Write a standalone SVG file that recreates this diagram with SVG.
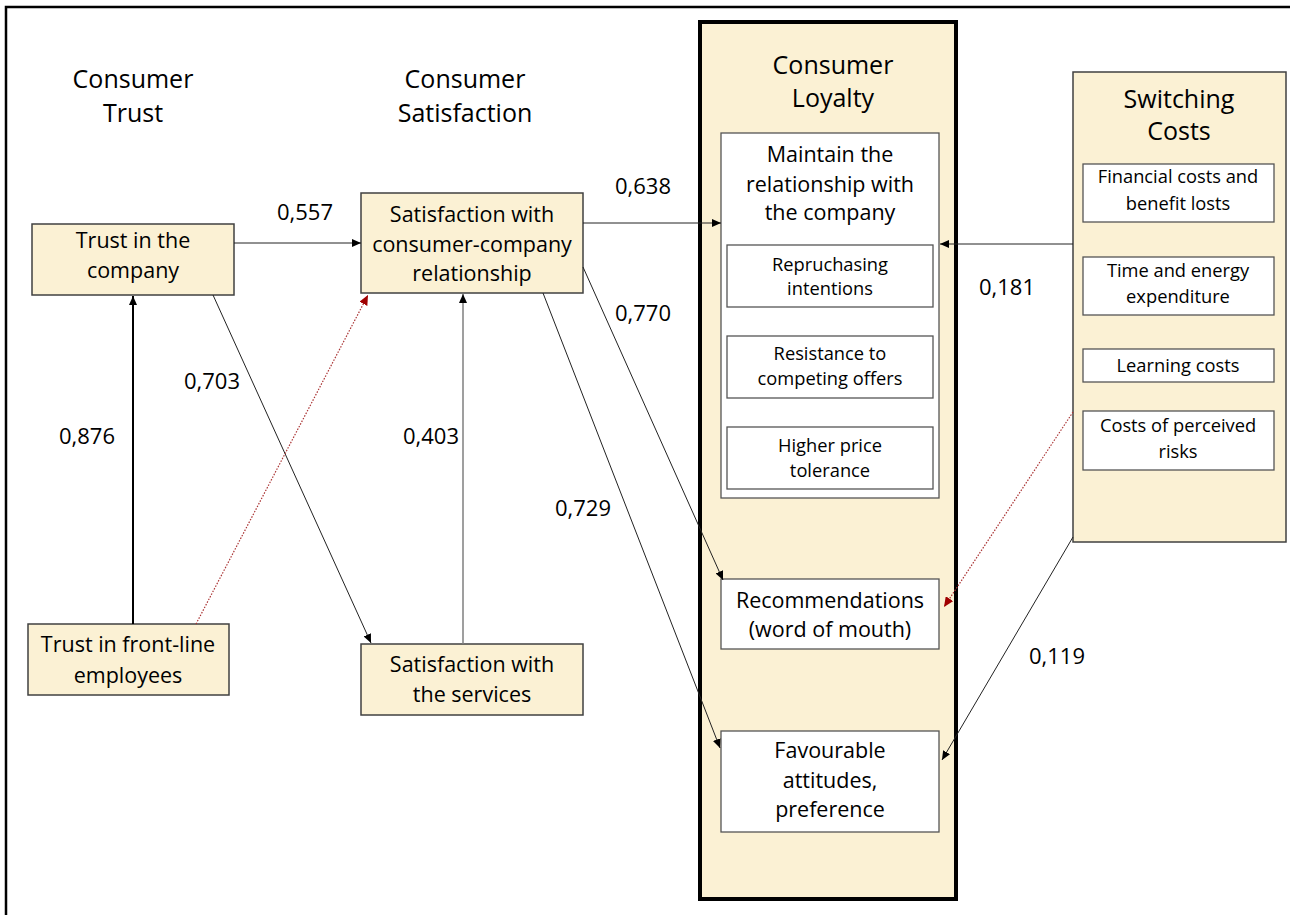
<svg xmlns="http://www.w3.org/2000/svg" width="1290" height="915" viewBox="0 0 1290 915">
<defs>
<marker id="ah" markerUnits="userSpaceOnUse" markerWidth="10" markerHeight="8" refX="9" refY="4" orient="auto"><path d="M0,0 L9,4 L0,8 Z" fill="#000"/></marker>
<marker id="ahr" markerUnits="userSpaceOnUse" markerWidth="11" markerHeight="9" refX="10" refY="4.5" orient="auto"><path d="M0,0 L10,4.5 L0,9 Z" fill="#a00000"/></marker>
</defs>
<style>
text{font-family:"Open Sans","Liberation Sans",sans-serif;fill:#000;text-anchor:middle}
.h{font-size:25px}
.n{font-size:21.5px}
.s{font-size:18.3px}
.l{font-size:22px}
.cream{fill:#fbf1d4;stroke:#404040;stroke-width:1.5}
.white{fill:#fff;stroke:#555;stroke-width:1.3}
.c{fill:none;stroke:#222;stroke-width:1}
.red{fill:none;stroke:#a33;stroke-width:1.2;stroke-dasharray:1.5 1.5}
</style>
<rect x="0" y="0" width="1290" height="915" fill="#fff"/>
<path d="M6,915 V7 H1290" fill="none" stroke="#000" stroke-width="2.5"/>

<g id="header-trust"><text class="h" x="133" y="88">Consumer</text><text class="h" x="133" y="122">Trust</text></g>
<g id="header-satisfaction"><text class="h" x="465" y="88">Consumer</text><text class="h" x="465" y="122">Satisfaction</text></g>

<g id="loyalty">
<rect x="700" y="22" width="256" height="877" fill="#fbf1d4" stroke="#000" stroke-width="4"/>
<text class="h" x="833" y="74">Consumer</text><text class="h" x="833" y="107">Loyalty</text>
</g>
<g id="maintain">
<rect class="white" x="721" y="133" width="218" height="365"/>
<text class="n" x="830" y="162">Maintain the</text><text class="n" x="830" y="192">relationship with</text><text class="n" x="830" y="220">the company</text>
</g>
<g id="repurchasing"><rect class="white" x="727" y="245" width="206" height="62"/><text class="s" x="830" y="271">Repruchasing</text><text class="s" x="830" y="295">intentions</text></g>
<g id="resistance"><rect class="white" x="727" y="336" width="206" height="62"/><text class="s" x="830" y="360">Resistance to</text><text class="s" x="830" y="385">competing offers</text></g>
<g id="price"><rect class="white" x="727" y="427" width="206" height="62"/><text class="s" x="830" y="452">Higher price</text><text class="s" x="830" y="477">tolerance</text></g>
<g id="recommendations"><rect class="white" x="721" y="579" width="218" height="70"/><text class="n" x="830" y="608">Recommendations</text><text class="n" x="830" y="637">(word of mouth)</text></g>
<g id="favourable"><rect class="white" x="721" y="731" width="218" height="101"/><text class="n" x="830" y="758">Favourable</text><text class="n" x="830" y="788">attitudes,</text><text class="n" x="830" y="817">preference</text></g>

<g id="switching">
<rect class="cream" x="1073" y="72" width="213" height="470"/>
<text class="h" x="1179" y="108">Switching</text><text class="h" x="1179" y="140">Costs</text>
</g>
<g id="financial"><rect class="white" x="1083" y="164" width="191" height="58"/><text class="s" x="1178" y="183">Financial costs and</text><text class="s" x="1178" y="210">benefit losts</text></g>
<g id="time"><rect class="white" x="1083" y="257" width="191" height="58"/><text class="s" x="1178" y="277">Time and energy</text><text class="s" x="1178" y="303">expenditure</text></g>
<g id="learning"><rect class="white" x="1083" y="349" width="191" height="33"/><text class="s" x="1178" y="372">Learning costs</text></g>
<g id="perceived"><rect class="white" x="1083" y="411" width="191" height="59"/><text class="s" x="1178" y="432">Costs of perceived</text><text class="s" x="1178" y="458">risks</text></g>

<g id="trust-company"><rect class="cream" x="32" y="224" width="202" height="71"/><text class="n" x="133" y="248">Trust in the</text><text class="n" x="133" y="278">company</text></g>
<g id="trust-frontline"><rect class="cream" x="28" y="624" width="201" height="71"/><text class="n" x="128" y="652">Trust in front-line</text><text class="n" x="128" y="683">employees</text></g>
<g id="sat-relationship"><rect class="cream" x="361" y="193" width="222" height="100"/><text class="n" x="472" y="222">Satisfaction with</text><text class="n" x="472" y="252">consumer-company</text><text class="n" x="472" y="281">relationship</text></g>
<g id="sat-services"><rect class="cream" x="361" y="644" width="222" height="71"/><text class="n" x="472" y="672">Satisfaction with</text><text class="n" x="472" y="702">the services</text></g>

<g id="connectors">
<line class="c" x1="234" y1="243" x2="361" y2="243" marker-end="url(#ah)"/>
<line class="c" x1="583" y1="223" x2="721" y2="223" marker-end="url(#ah)"/>
<line class="c" x1="583" y1="267" x2="723" y2="580" marker-end="url(#ah)"/>
<line class="c" x1="543" y1="293" x2="720" y2="748" marker-end="url(#ah)"/>
<line class="c" x1="213" y1="295" x2="371" y2="643" marker-end="url(#ah)"/>
<line x1="133" y1="624" x2="133" y2="296" stroke="#000" stroke-width="2" marker-end="url(#ah)"/>
<line x1="463" y1="644" x2="463" y2="294" stroke="#7f7f7f" stroke-width="1.5" marker-end="url(#ah)"/>
<line class="red" x1="196" y1="624" x2="368" y2="295" marker-end="url(#ahr)"/>
<line class="c" x1="1073" y1="244" x2="940" y2="244" marker-end="url(#ah)"/>
<line class="red" x1="1073" y1="412" x2="944" y2="607" marker-end="url(#ahr)"/>
<line class="c" x1="1073" y1="537" x2="942" y2="760" marker-end="url(#ah)"/>
<text class="l" x="305" y="220">0,557</text>
<text class="l" x="643" y="194">0,638</text>
<text class="l" x="643" y="321">0,770</text>
<text class="l" x="212" y="389">0,703</text>
<text class="l" x="87" y="444">0,876</text>
<text class="l" x="431" y="444">0,403</text>
<text class="l" x="583" y="516">0,729</text>
<text class="l" x="1007" y="295">0,181</text>
<text class="l" x="1057" y="664">0,119</text>
</g>
</svg>
